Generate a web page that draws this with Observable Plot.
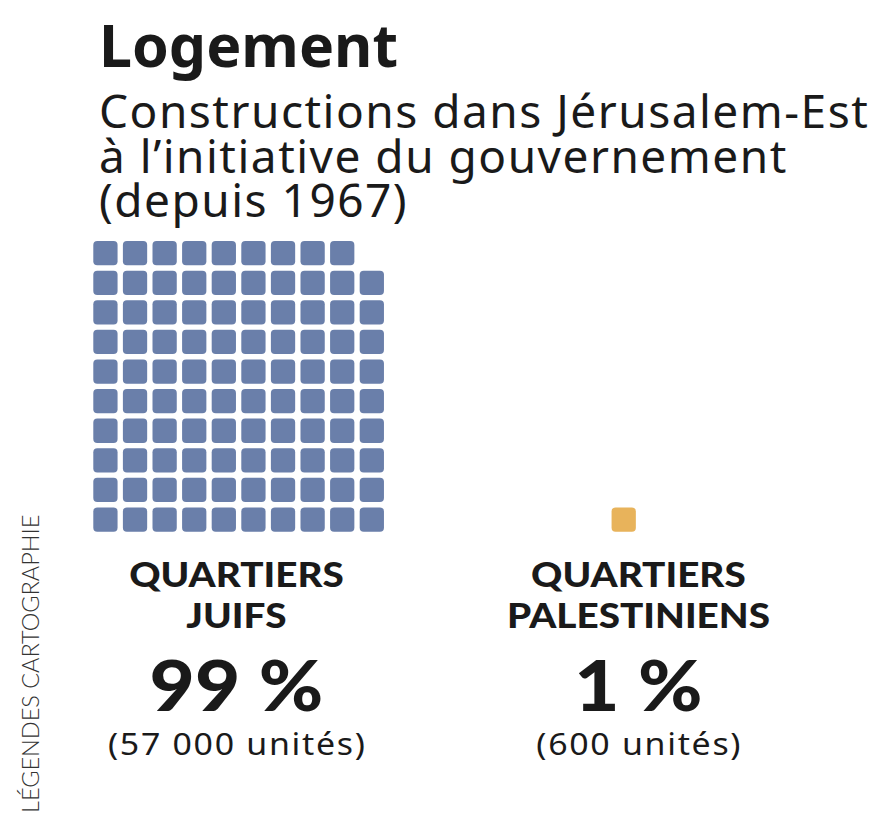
<!DOCTYPE html>
<html>
<head>
<meta charset="utf-8">
<script src="https://cdn.jsdelivr.net/npm/d3@7"></script>
<script src="https://cdn.jsdelivr.net/npm/@observablehq/plot@0.6"></script>
<style>
  html, body { margin: 0; padding: 0; background: #fff; }
  #wrap { position: relative; width: 883px; height: 826px; overflow: hidden; }
  #head { position: relative; height: 232px; }
  #title { position: absolute; left: 99px; top: 9px; font-family: "Noto Sans", sans-serif; font-weight: 700; font-size: 59px; line-height: 70px; color: #1a1a1a; white-space: nowrap; }
  #subtitle { position: absolute; left: 99px; top: 88px; font-family: "Noto Sans", sans-serif; font-weight: 400; font-size: 46px; line-height: 44.5px; letter-spacing: 1.5px; color: #1a1a1a; white-space: nowrap; }
  #credit { position: absolute; left: 16px; top: 813px; transform-origin: 0 0; transform: rotate(-90deg); font-family: Lato, sans-serif; font-weight: 300; font-size: 23.5px; line-height: 28px; color: #333; white-space: nowrap; }
</style>
</head>
<body>
<div id="wrap">
  <div id="head">
    <div id="title"></div>
    <div id="subtitle"></div>
  </div>
  <div id="chart"></div>
  <div id="credit"></div>
</div>
<script>
// ---- data ----
const title = "Logement";
const subtitleLines = ["Constructions dans Jérusalem-Est", "à l’initiative du gouvernement", "(depuis 1967)"];
const groups = ["QUARTIERS\nJUIFS", "QUARTIERS\nPALESTINIENS"];
const shares = [99, 1];            // percent, one square per percent
const percentLabels = ["99 %", "1 %"];
const unitLabels = ["(57 000 unités)", "(600 unités)"];
const colors = ["#6a7faa", "#e8b35b"];
const credit = "LÉGENDES CARTOGRAPHIE";

// ---- layout (grid units, not data) ----
const groupOffset = [0, 17.51];
const labelCenter = [4.82, 18.40];
const cols = 10;
const cell = 0.82;

document.getElementById("title").textContent = title;
document.getElementById("subtitle").innerHTML = subtitleLines.join("<br>");
document.getElementById("credit").textContent = credit;

const units = [];
groups.forEach((g, gi) => {
  for (let i = 0; i < shares[gi]; i++) {
    units.push({group: g, gi, col: i % cols, row: Math.floor(i / cols)});
  }
});
const labels = groups.map((g, gi) => {
  const [line1, line2] = g.split("\n");
  return {group: g, gi, line1, line2, pct: percentLabels[gi], unit: unitLabels[gi]};
});

const heavy = {fontFamily: "Lato", fontWeight: 900, fill: "#1a1a1a", lineAnchor: "bottom"};
const chart = Plot.plot({
  width: 883,
  height: 594,
  margin: 0,
  x: {type: "linear", domain: [-3.152, 26.68], axis: null},
  y: {type: "linear", domain: [-9.943, 10.125], axis: null},
  color: {type: "ordinal", domain: groups, range: colors},
  marks: [
    Plot.rect(units, {
      x1: d => groupOffset[d.gi] + d.col,
      x2: d => groupOffset[d.gi] + d.col + cell,
      y1: d => d.row,
      y2: d => d.row + cell,
      fill: "group",
      rx: 4, ry: 4
    }),
    Plot.text(labels, {...heavy, x: d => labelCenter[d.gi], y: -1.858, text: "line1", fontSize: 34.5}),
    Plot.text(labels, {...heavy, x: d => labelCenter[d.gi], y: -3.253, text: "line2", fontSize: 34.5}),
    Plot.text(labels, {...heavy, x: d => labelCenter[d.gi], y: -6.024, text: "pct", fontSize: 71}),
    Plot.text(labels, {
      x: d => labelCenter[d.gi], y: -7.544, text: "unit",
      lineAnchor: "bottom", dx: 0.8,
      fontFamily: "Noto Sans", fontWeight: 400, fontSize: 30, fill: "#1a1a1a"
    })
  ]
});
document.getElementById("chart").appendChild(chart);

// widen glyphs slightly to mimic the reference's broad geometric typeface
const stretch = [1.12, 1.12, 1.1, 1.13];
d3.select(chart).selectAll('g[aria-label="text"]').each(function(_, i) {
  const g = d3.select(this);
  if (i === 3) g.attr("letter-spacing", 1.5);
  g.selectAll("text").each(function() {
    const w = this.getComputedTextLength();
    d3.select(this).attr("textLength", w * stretch[i]).attr("lengthAdjust", "spacingAndGlyphs");
  });
});
</script>
</body>
</html>
